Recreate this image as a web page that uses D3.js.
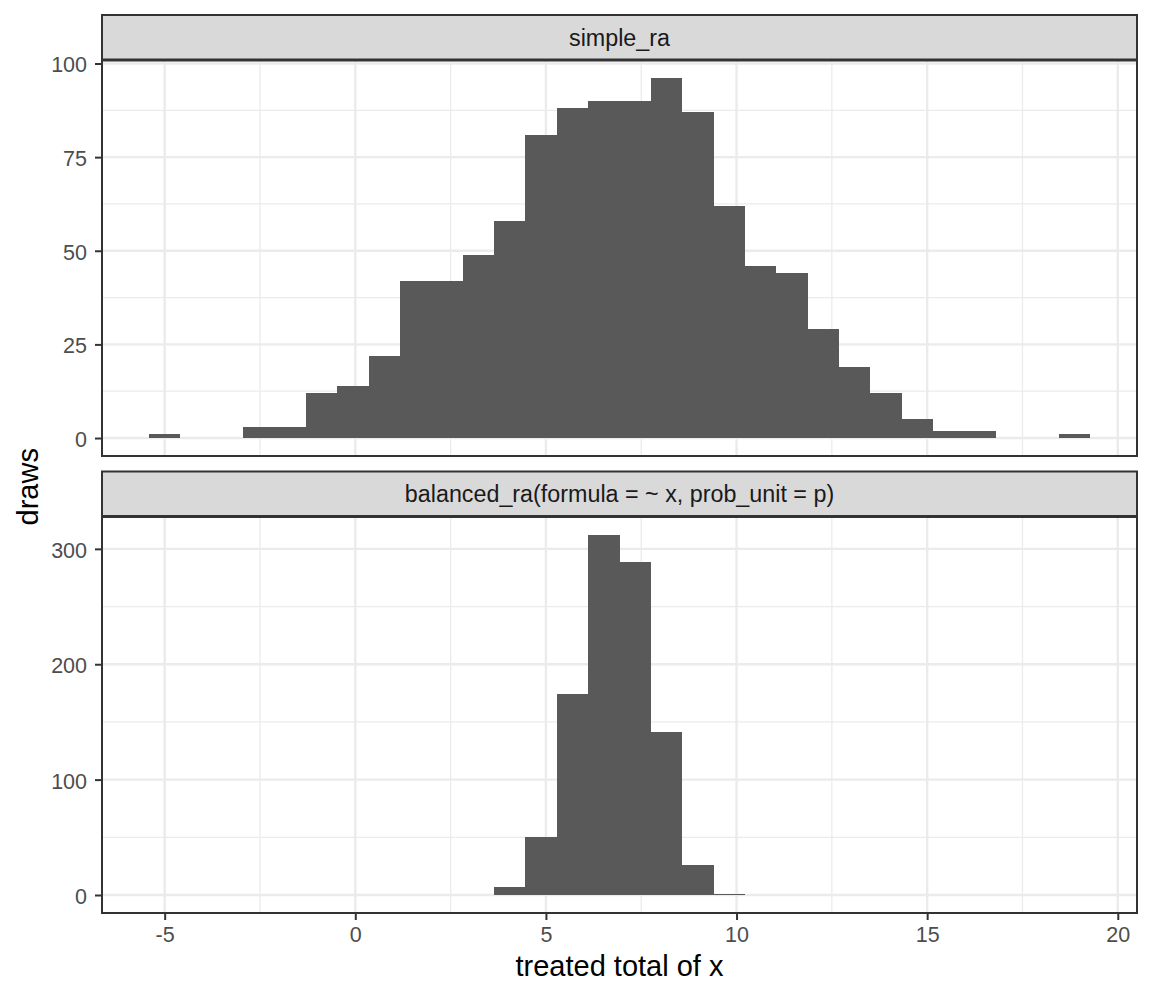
<!DOCTYPE html>
<html>
<head>
<meta charset="utf-8">
<script src="https://cdn.jsdelivr.net/npm/d3@7"></script>
<style>
  body { margin: 0; background: #ffffff; }
  svg { display: block; }
  text { font-family: "Liberation Sans", Arial, Helvetica, sans-serif; }
</style>
</head>
<body>
<div id="chart"></div>
<script>
// ---------------- data ----------------
const panelNames = ["simple_ra", "balanced_ra(formula = ~ x, prob_unit = p)"];

// histogram bin edges (30 bins, shared by both facets)
const binEdges = [-5.41, -4.59, -3.77, -2.94, -2.12, -1.30, -0.47, 0.35, 1.17, 1.99,
                  2.82, 3.64, 4.46, 5.29, 6.11, 6.93, 7.75, 8.58, 9.40, 10.22,
                  11.04, 11.87, 12.69, 13.51, 14.34, 15.16, 15.98, 16.80, 17.63, 18.45,
                  19.27];

const simpleCounts   = [1, 0, 0, 3, 3, 12, 14, 22, 42, 42,
                        49, 58, 81, 88, 90, 90, 96, 87, 62, 46,
                        44, 29, 19, 12, 5, 2, 2, 0, 0, 1];
const balancedCounts = [0, 0, 0, 0, 0, 0, 0, 0, 0, 0,
                        0, 7, 50, 174, 312, 289, 141, 26, 1, 0,
                        0, 0, 0, 0, 0, 0, 0, 0, 0, 0];

const xTickValues  = [-5, 0, 5, 10, 15, 20];
const xTickLabels  = ["-5", "0", "5", "10", "15", "20"];
const xMinorValues = [-2.5, 2.5, 7.5, 12.5, 17.5];

const simpleYTicks   = [0, 25, 50, 75, 100];
const simpleYMinor   = [12.5, 37.5, 62.5, 87.5];
const balancedYTicks = [0, 100, 200, 300];
const balancedYMinor = [50, 150, 250];

const xTitle = "treated total of x";
const yTitle = "draws";

// ---------------- layout ----------------
const W = 1152, H = 998;
const panelLeft = 102, panelRight = 1137;
const layout = [
  { stripTop: 15,    stripBottom: 59.5,  top: 60.5,  bottom: 456 },
  { stripTop: 471.5, stripBottom: 516,   top: 517,   bottom: 913 }
];
const panels = [
  { name: panelNames[0], counts: simpleCounts,   yTicks: simpleYTicks,   yMinor: simpleYMinor,   showX: false },
  { name: panelNames[1], counts: balancedCounts, yTicks: balancedYTicks, yMinor: balancedYMinor, showX: true }
];

const COL_BAR = "#595959", COL_GRID = "#EBEBEB", COL_BORDER = "#333333",
      COL_STRIP = "#D9D9D9", COL_AXTXT = "#4D4D4D", COL_STRIPTXT = "#1A1A1A";
const AXIS_FS = 21.5, TITLE_FS = 29, STRIP_FS = 23.3;

const svg = d3.select("#chart").append("svg")
  .attr("width", W).attr("height", H)
  .attr("viewBox", `0 0 ${W} ${H}`);
svg.append("rect").attr("width", W).attr("height", H).attr("fill", "#ffffff");

// shared x scale (ggplot 5% expansion)
const xLo = binEdges[0], xHi = binEdges[binEdges.length - 1];
const xSpan = xHi - xLo;
const x = d3.scaleLinear()
  .domain([xLo - 0.05 * xSpan, xHi + 0.05 * xSpan])
  .range([panelLeft, panelRight]);

panels.forEach((p, i) => {
  const L = layout[i];
  const maxC = d3.max(p.counts);
  const y = d3.scaleLinear()
    .domain([-0.05 * maxC, 1.05 * maxC])
    .range([L.bottom, L.top]);

  const g = svg.append("g");

  // panel background
  g.append("rect")
    .attr("x", panelLeft).attr("y", L.top)
    .attr("width", panelRight - panelLeft).attr("height", L.bottom - L.top)
    .attr("fill", "#ffffff");

  // minor grid
  g.append("g").selectAll("line").data(xMinorValues).join("line")
    .attr("x1", d => x(d)).attr("x2", d => x(d))
    .attr("y1", L.top).attr("y2", L.bottom)
    .attr("stroke", COL_GRID).attr("stroke-width", 1.3);
  g.append("g").selectAll("line").data(p.yMinor).join("line")
    .attr("x1", panelLeft).attr("x2", panelRight)
    .attr("y1", d => y(d)).attr("y2", d => y(d))
    .attr("stroke", COL_GRID).attr("stroke-width", 1.3);

  // major grid
  g.append("g").selectAll("line").data(xTickValues).join("line")
    .attr("x1", d => x(d)).attr("x2", d => x(d))
    .attr("y1", L.top).attr("y2", L.bottom)
    .attr("stroke", COL_GRID).attr("stroke-width", 2.4);
  g.append("g").selectAll("line").data(p.yTicks).join("line")
    .attr("x1", panelLeft).attr("x2", panelRight)
    .attr("y1", d => y(d)).attr("y2", d => y(d))
    .attr("stroke", COL_GRID).attr("stroke-width", 2.4);

  // bars
  const bins = p.counts.map((c, k) => ({ x0: binEdges[k], x1: binEdges[k + 1], count: c }));
  g.append("g").attr("shape-rendering", "crispEdges")
    .selectAll("rect").data(bins).join("rect")
    .attr("x", d => x(d.x0))
    .attr("width", d => x(d.x1) - x(d.x0))
    .attr("y", d => y(d.count))
    .attr("height", d => y(0) - y(d.count))
    .attr("fill", COL_BAR);

  // panel border
  g.append("rect")
    .attr("x", panelLeft).attr("y", L.top)
    .attr("width", panelRight - panelLeft).attr("height", L.bottom - L.top)
    .attr("fill", "none").attr("stroke", COL_BORDER).attr("stroke-width", 2);

  // strip
  g.append("rect")
    .attr("x", panelLeft).attr("y", L.stripTop)
    .attr("width", panelRight - panelLeft).attr("height", L.stripBottom - L.stripTop)
    .attr("fill", COL_STRIP).attr("stroke", COL_BORDER).attr("stroke-width", 2);
  g.append("text")
    .attr("x", (panelLeft + panelRight) / 2)
    .attr("y", (L.stripTop + L.stripBottom) / 2 + 8.3)
    .attr("text-anchor", "middle")
    .attr("font-size", STRIP_FS)
    .attr("fill", COL_STRIPTXT)
    .text(p.name);

  // y axis
  const yAxis = d3.axisLeft(y).tickValues(p.yTicks).tickSize(7).tickPadding(8).tickFormat(d3.format("d"));
  const ya = g.append("g").attr("transform", `translate(${panelLeft},0)`).call(yAxis);
  ya.select(".domain").remove();
  ya.selectAll(".tick line").attr("stroke", COL_BORDER).attr("stroke-width", 2);
  ya.selectAll(".tick text")
    .attr("font-size", AXIS_FS).attr("fill", COL_AXTXT)
    .attr("font-family", '"Liberation Sans", Arial, Helvetica, sans-serif')
    .attr("dy", "0.39em");

  // x axis (bottom facet only)
  if (p.showX) {
    const xAxis = d3.axisBottom(x).tickValues(xTickValues).tickSize(7).tickPadding(7)
      .tickFormat((d, k) => xTickLabels[k]);
    const xa = g.append("g").attr("transform", `translate(0,${L.bottom})`).call(xAxis);
    xa.select(".domain").remove();
    xa.selectAll(".tick line").attr("stroke", COL_BORDER).attr("stroke-width", 2);
    xa.selectAll(".tick text")
      .attr("font-size", AXIS_FS).attr("fill", COL_AXTXT)
      .attr("font-family", '"Liberation Sans", Arial, Helvetica, sans-serif');
  }
});

// axis titles
svg.append("text")
  .attr("x", (panelLeft + panelRight) / 2)
  .attr("y", 976)
  .attr("text-anchor", "middle")
  .attr("font-size", TITLE_FS)
  .attr("fill", "#000000")
  .text(xTitle);

svg.append("text")
  .attr("transform", `translate(38,${(layout[0].top + layout[1].bottom) / 2}) rotate(-90)`)
  .attr("text-anchor", "middle")
  .attr("font-size", TITLE_FS)
  .attr("fill", "#000000")
  .text(yTitle);
</script>
</body>
</html>
